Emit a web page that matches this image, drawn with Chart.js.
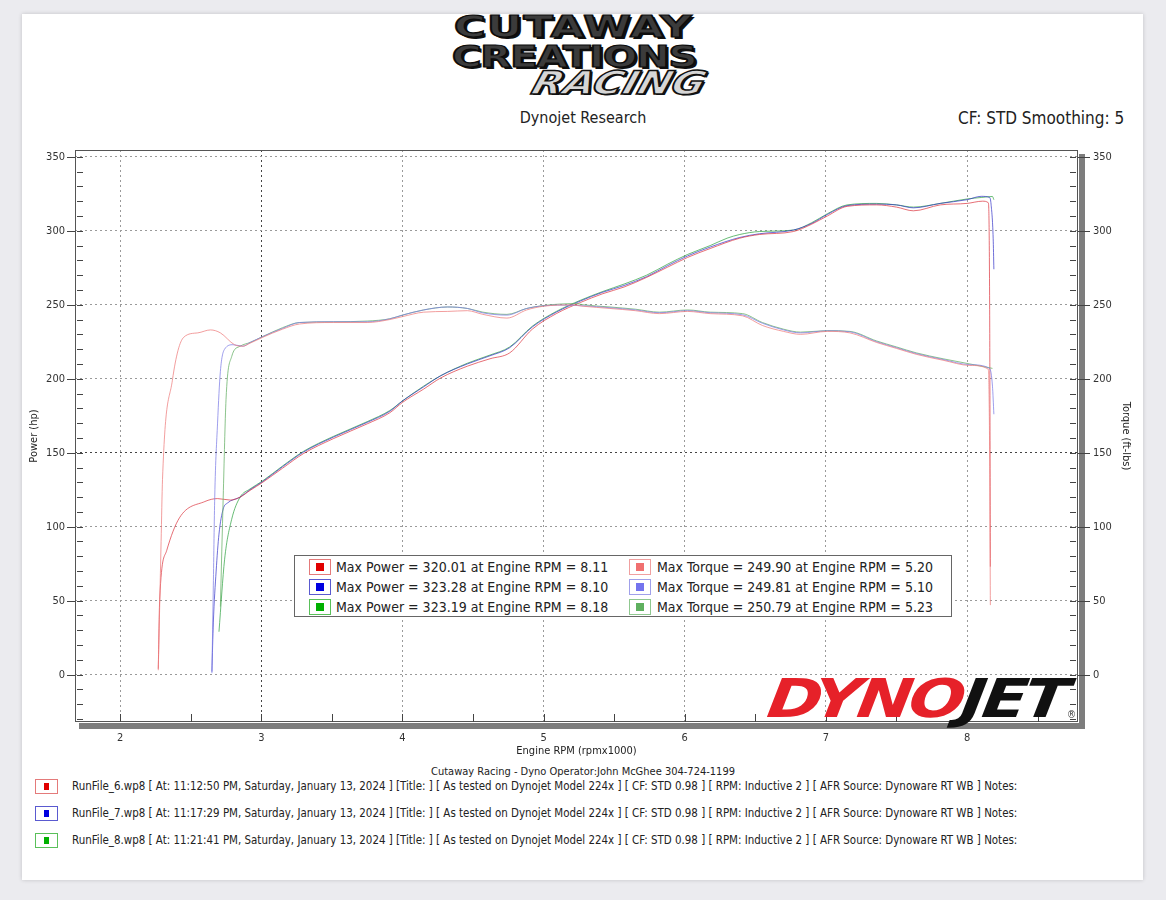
<!DOCTYPE html>
<html>
<head>
<meta charset="utf-8">
<script src="https://cdn.jsdelivr.net/npm/chart.js@4"></script>
<style>
  html,body{margin:0;padding:0;}
  body{width:1166px;height:900px;background:#ebebef;position:relative;overflow:hidden;
       font-family:"DejaVu Sans Condensed","DejaVu Sans",sans-serif;font-stretch:condensed;color:#222;}
  #card{position:absolute;left:22px;top:14px;width:1121px;height:866px;background:#fff;box-shadow:0 0 4px rgba(0,0,0,0.18);}
  #chartWrap{position:absolute;left:22px;top:0;width:1121px;height:762px;}
  .abs{position:absolute;white-space:nowrap;}
  .logo{font-family:"DejaVu Sans Condensed","DejaVu Sans",sans-serif;font-weight:bold;font-stretch:condensed;
        color:#3b3b3b;-webkit-text-stroke:1.5px #0c0c0c;text-shadow:2px 2px 0 #111, -1px -1px 0 #777;line-height:1;}
  #legendBox{position:absolute;left:294px;top:555px;width:656px;height:60px;border:1px solid #666;background:#fff;}
  .lrow{position:absolute;font-size:14px;line-height:16px;white-space:nowrap;}
  .mk{position:absolute;width:20px;height:14px;border:1px solid;background:#fff;}
  .mk i{position:absolute;left:6px;top:3px;width:8px;height:8px;}
  .fk{position:absolute;width:21px;height:13px;border:1px solid;background:#fff;}
  .fk i{position:absolute;left:8px;top:3px;width:5px;height:7px;}
  .foot{position:absolute;left:72px;font-size:11.45px;line-height:13px;white-space:nowrap;color:#222;}
</style>
</head>
<body>
<div id="card"></div>

<!-- header logo -->
<div class="abs logo" style="left:454px;top:12px;font-size:37px;letter-spacing:1px;transform:scale(1.30,0.82);transform-origin:0 0;">CUTAWAY</div>
<div class="abs logo" style="left:452px;top:42px;font-size:37px;letter-spacing:-1px;transform:scale(1.21,0.82);transform-origin:0 0;">CREATIONS</div>
<div class="abs logo" style="left:538px;top:66px;font-size:34px;font-style:italic;color:#d6d6d6;-webkit-text-stroke:1.5px #111;text-shadow:2px 2px 0 #111;transform:scale(1.32,0.95) skewX(-12deg);transform-origin:0 0;">RACING</div>

<div class="abs" id="title1" style="left:0;width:1166px;top:108px;text-align:center;font-size:16px;">Dynojet Research</div>
<div class="abs" id="title2" style="left:958px;top:108px;font-size:17px;">CF: STD Smoothing: 5</div>

<div id="chartWrap"><canvas id="c" width="1121" height="762"></canvas></div>

<div id="legendBox"></div>

<!-- DYNOJET logo -->
<div class="abs" style="left:772px;top:672px;font-family:'DejaVu Sans Condensed','DejaVu Sans',sans-serif;font-weight:bold;font-style:italic;font-size:58px;letter-spacing:-3px;line-height:1;transform:scale(1.27,0.92) skewX(-6deg);transform-origin:0 0;"><span style="color:#e62129;">DYNO</span><span style="color:#111;">JET</span></div>
<div class="abs" style="left:1067px;top:709px;font-size:10px;color:#333;">®</div>

<div class="abs" id="opLine" style="left:0;width:1166px;top:765px;text-align:center;font-size:11px;"></div>
<div id="footer"></div>

<script>
// ---------------- DATA ----------------
const xTicks = [2, 3, 4, 5, 6, 7, 8];
const yTicks = [0, 50, 100, 150, 200, 250, 300, 350];

const runNames = ['RunFile_6.wp8', 'RunFile_7.wp8', 'RunFile_8.wp8'];
const runTimes = ['11:12:50 PM', '11:17:29 PM', '11:21:41 PM'];
const maxPower = [320.01, 323.28, 323.19];
const maxPowerRpm = [8.11, 8.10, 8.18];
const maxTorque = [249.90, 249.81, 250.79];
const maxTorqueRpm = [5.20, 5.10, 5.23];

// Run 6 (red)
const rpm6P = [2.27,2.28,2.33,2.42,2.60,2.69,2.78,2.85,2.92,3.01,3.15,3.30,3.51,3.75,3.91,4.00,4.15,4.27,4.46,4.62,4.76,4.92,5.09,5.26,5.42,5.57,5.73,5.88,6.02,6.18,6.39,6.53,6.77,6.90,7.01,7.15,7.36,7.50,7.62,7.81,8.00,8.11,8.15,8.16,8.165];
const pow6  = [4,51,84,106,117,119,118,120,124.5,130,139.5,149.5,159.5,169.5,177,184,193,200.5,208.5,213.5,217.5,233.5,244,251.5,257.5,262,268.5,275.5,282,288,295,297.5,299.5,304.5,310,316.5,317.5,316,313.5,317.5,318.5,320.01,319,250,73];
const rpm6T = [2.27,2.29,2.30,2.37,2.45,2.55,2.64,2.71,2.81,2.87,2.92,3.01,3.15,3.27,3.51,3.75,3.91,4.00,4.15,4.32,4.46,4.57,4.74,4.88,5.00,5.20,5.28,5.47,5.65,5.82,6.02,6.18,6.41,6.55,6.70,6.82,7.01,7.17,7.36,7.50,7.64,7.83,8.02,8.15,8.16,8.165];
const tq6   = [3,90,132,199,228,231,233,231,223,222,224,228,233.5,237,238,238,240,242,245,245.5,246,243.5,241,246.5,249,249.9,249,247.5,246,244,245.5,244,242.5,236,232,230,232,231,224.5,220.5,216.5,212.5,209,206.5,150,47];

// Run 7 (blue)
const rpm7P = [2.65,2.66,2.68,2.70,2.73,2.76,2.85,2.92,3.01,3.15,3.30,3.51,3.75,3.91,4.00,4.15,4.27,4.46,4.62,4.76,4.92,5.09,5.26,5.42,5.57,5.73,5.88,6.02,6.18,6.39,6.53,6.77,6.90,7.01,7.15,7.36,7.50,7.62,7.81,8.00,8.10,8.16,8.17,8.185,8.19];
const pow7  = [2,35,70,95,112,116,120,125,130.5,140.5,150.5,160.5,170.5,178,185,194.5,202,210,215.5,221,235,245,252.5,258.5,263,269,276.5,283,289,295.5,298,300.5,305,311,317,318,317.5,315.5,318.5,321,323.28,322.5,318,295,274];
const rpm7T = [2.65,2.66,2.67,2.69,2.71,2.74,2.80,2.87,2.92,3.01,3.15,3.27,3.51,3.75,3.91,4.00,4.15,4.32,4.46,4.57,4.74,4.88,5.00,5.10,5.28,5.47,5.65,5.82,6.02,6.18,6.41,6.55,6.70,6.82,7.01,7.17,7.36,7.50,7.64,7.83,8.02,8.16,8.18,8.19];
const tq7   = [1,60,120,170,205,220,223,222,224.5,228.5,234,238,238.5,238.5,240.5,243,246.5,248.5,247.5,244.5,243,247.5,249.3,249.81,249.3,248,246.5,244.6,246,244.6,243.2,237.5,233,231,232.4,231.7,225,221,217,213,209.5,207,195,176];

// Run 8 (green)
const rpm8P = [2.70,2.74,2.79,2.85,2.92,3.01,3.15,3.30,3.51,3.75,3.91,4.00,4.15,4.27,4.46,4.62,4.76,4.92,5.09,5.26,5.42,5.57,5.73,5.88,6.02,6.18,6.30,6.39,6.53,6.77,6.90,7.01,7.15,7.36,7.50,7.62,7.81,8.00,8.10,8.18,8.19];
const pow8  = [29,78,105,120,125.5,131,141,151,161,171,178.5,185,195,202,210.5,216,221.5,235.5,245.5,253,259,264,270,277.5,284,290,295,297.5,299.5,300.5,305.5,311.5,317.5,318.5,317.5,316,318.5,321.5,322.5,323.19,321];
const rpm8T = [2.71,2.73,2.75,2.79,2.85,2.92,3.01,3.15,3.27,3.51,3.75,3.91,4.00,4.15,4.32,4.46,4.57,4.74,4.88,5.00,5.23,5.28,5.47,5.65,5.82,6.02,6.18,6.41,6.55,6.70,6.82,7.01,7.17,7.36,7.50,7.64,7.83,8.02,8.18];
const tq8   = [46,120,186,215,222,224.5,228.5,234.5,238,238.5,239,240.5,243,246.5,248.5,247.5,245,243.5,247.5,249.5,250.79,250,248.5,247,245,246.5,245,244,238,233.5,231.5,232.5,232,225.5,221.5,217.5,213.5,210,207];

// ---------------- STYLE ----------------
const powerColors  = ['rgba(220,50,60,0.7)', 'rgba(50,50,200,0.7)', 'rgba(40,160,60,0.7)'];
const torqueColors = ['rgba(238,125,125,0.75)', 'rgba(125,125,230,0.75)', 'rgba(100,175,100,0.75)'];
const markPower = ['#e00000', '#0000e0', '#00b000'];
const markPowerBorder = ['#e47a7a', '#5a5ad0', '#5ac05a'];
const markTorque = ['#f07070', '#7474ee', '#5fb05f'];
const markTorqueBorder = ['#f0a0a0', '#a0a0ea', '#90c890'];

function pts(xs, ys){ return xs.map((x,i)=>({x:x, y:ys[i]})); }

const series = [
  {label:'Torque 6', data:pts(rpm6T,tq6), axis:'y2', color:torqueColors[0]},
  {label:'Torque 7', data:pts(rpm7T,tq7), axis:'y2', color:torqueColors[1]},
  {label:'Torque 8', data:pts(rpm8T,tq8), axis:'y2', color:torqueColors[2]},
  {label:'Power 6',  data:pts(rpm6P,pow6), axis:'y', color:powerColors[0]},
  {label:'Power 7',  data:pts(rpm7P,pow7), axis:'y', color:powerColors[1]},
  {label:'Power 8',  data:pts(rpm8P,pow8), axis:'y', color:powerColors[2]},
];

const FONT = "'DejaVu Sans Condensed','DejaVu Sans',sans-serif";

const framePlugin = {
  id:'framePlugin',
  afterDraw(chart){
    const {ctx, chartArea:a, scales} = chart;
    const y = scales.y, x = scales.x;
    ctx.save();
    ctx.fillStyle = '#7d7d7d';
    ctx.fillRect(a.left+4, a.bottom+1, a.right-a.left+3, 6);
    ctx.fillRect(a.right+1, a.top+4, 6, a.bottom-a.top+3);
    ctx.strokeStyle = '#555'; ctx.lineWidth = 1;
    ctx.strokeRect(a.left+0.5, a.top+0.5, a.right-a.left-1, a.bottom-a.top-1);
    ctx.strokeStyle = '#444';
    ctx.beginPath();
    for (let v = -30; v <= 350; v += 10){
      const py = Math.round(y.getPixelForValue(v))+0.5;
      if (py < a.top || py > a.bottom) continue;
      ctx.moveTo(a.left+2, py); ctx.lineTo(a.left+8, py);
      ctx.moveTo(a.right-8, py); ctx.lineTo(a.right-2, py);
    }
    yTicks.forEach(v=>{
      const py = Math.round(y.getPixelForValue(v))+0.5;
      ctx.moveTo(a.left-8, py); ctx.lineTo(a.left, py);
      ctx.moveTo(a.right, py); ctx.lineTo(a.right+12, py);
    });
    for (let v = 1.5; v <= 8.6; v += 0.5){
      const px = Math.round(x.getPixelForValue(v))+0.5;
      if (px < a.left || px > a.right) continue;
      ctx.moveTo(px, a.bottom-8); ctx.lineTo(px, a.bottom);
    }
    ctx.stroke();
    ctx.restore();
  }
};

const chart = new Chart(document.getElementById('c'), {
  type:'line',
  data:{
    datasets: series.map(s=>({
      label:s.label, data:s.data, yAxisID:s.axis,
      borderColor:s.color, backgroundColor:s.color,
      borderWidth:1, pointRadius:0, fill:false,
      cubicInterpolationMode:'monotone'
    }))
  },
  options:{
    responsive:false, animation:false, devicePixelRatio:1,
    layout:{padding:{top:150,left:0,right:0,bottom:0}},
    plugins:{legend:{display:false}, tooltip:{enabled:false}},
    scales:{
      x:{
        type:'linear', min:1.68, max:8.786,
        afterBuildTicks(s){ s.ticks = xTicks.map(v=>({value:v})); },
        afterFit(s){ s.height = 40; },
        grid:{color:(c)=> c.tick && c.tick.value===3 ? '#444' : '#9a9a9a', lineWidth:1, drawTicks:false},
        border:{display:false, dash:[2,3]},
        ticks:{padding:10, color:'#333', font:{family:FONT, size:11}, maxRotation:0,
               callback:(v)=>String(v)},
        title:{display:true, text:'Engine RPM (rpmx1000)', color:'#222', font:{family:FONT, size:11}, padding:{top:0,bottom:4}}
      },
      y:{
        position:'left', min:-32, max:354.6,
        afterBuildTicks(s){ s.ticks = yTicks.map(v=>({value:v})); },
        afterFit(s){ s.width = 53; },
        grid:{color:(c)=> c.tick && c.tick.value===150 ? '#444' : '#9a9a9a', lineWidth:1, drawTicks:false},
        border:{display:false, dash:[2,3]},
        ticks:{padding:10, color:'#333', font:{family:FONT, size:11}, callback:(v)=>String(v)},
        title:{display:true, text:'Power (hp)', color:'#222', font:{family:FONT, size:11}, padding:{top:6,bottom:0}}
      },
      y2:{
        position:'right', min:-32, max:354.6,
        afterBuildTicks(s){ s.ticks = yTicks.map(v=>({value:v})); },
        afterFit(s){ s.width = 65; },
        grid:{display:false, drawTicks:false},
        border:{display:false},
        ticks:{padding:15, color:'#333', font:{family:FONT, size:11}, callback:(v)=>String(v)},
        title:{display:true, text:'Torque (ft-lbs)', color:'#222', font:{family:FONT, size:11}, padding:{top:11,bottom:0}}
      }
    }
  },
  plugins:[framePlugin]
});

// ---------------- LEGEND BOX ----------------
const lb = document.getElementById('legendBox');
const rowTops = [3, 23, 43];
for (let i = 0; i < 3; i++){
  const m1 = document.createElement('div');
  m1.className = 'mk'; m1.style.left = '14px'; m1.style.top = rowTops[i]+'px';
  m1.style.borderColor = markPowerBorder[i];
  m1.innerHTML = '<i style="background:'+markPower[i]+'"></i>';
  lb.appendChild(m1);
  const t1 = document.createElement('div');
  t1.className = 'lrow'; t1.style.left = '41px'; t1.style.top = rowTops[i]+'px';
  t1.textContent = 'Max Power = ' + maxPower[i].toFixed(2) + ' at Engine RPM = ' + maxPowerRpm[i].toFixed(2);
  lb.appendChild(t1);
  const m2 = document.createElement('div');
  m2.className = 'mk'; m2.style.left = '334px'; m2.style.top = rowTops[i]+'px';
  m2.style.borderColor = markTorqueBorder[i];
  m2.innerHTML = '<i style="background:'+markTorque[i]+'"></i>';
  lb.appendChild(m2);
  const t2 = document.createElement('div');
  t2.className = 'lrow'; t2.style.left = '362px'; t2.style.top = rowTops[i]+'px';
  t2.textContent = 'Max Torque = ' + maxTorque[i].toFixed(2) + ' at Engine RPM = ' + maxTorqueRpm[i].toFixed(2);
  lb.appendChild(t2);
}

// ---------------- FOOTER ----------------
document.getElementById('opLine').textContent = 'Cutaway Racing - Dyno Operator:John McGhee 304-724-1199';
const ft = document.getElementById('footer');
const footTops = [779, 806, 833];
for (let i = 0; i < 3; i++){
  const k = document.createElement('div');
  k.className = 'fk'; k.style.left = '35px'; k.style.top = footTops[i]+'px';
  k.style.borderColor = markPowerBorder[i];
  k.innerHTML = '<i style="background:'+markPower[i]+'"></i>';
  ft.appendChild(k);
  const t = document.createElement('div');
  t.className = 'foot'; t.style.top = (footTops[i]+1)+'px';
  t.textContent = runNames[i] + ' [ At: ' + runTimes[i] + ', Saturday, January 13, 2024 ] [Title: ]  [ As tested on Dynojet Model 224x ] [ CF: STD 0.98 ] [ RPM: Inductive 2 ] [ AFR Source: Dynoware RT WB ] Notes:';
  ft.appendChild(t);
}
</script>
</body>
</html>
